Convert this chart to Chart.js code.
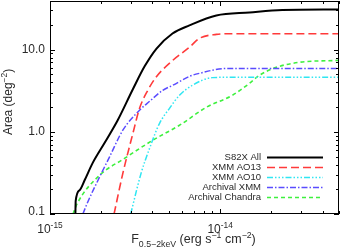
<!DOCTYPE html>
<html lang="en">
<head>
<meta charset="UTF-8">
<title>Survey area vs flux</title>
<script src="https://cdn.jsdelivr.net/npm/chart.js@4.4.1/dist/chart.umd.min.js"></script>
<style>
  html, body { margin: 0; padding: 0; background: #fff; }
  canvas { display: block; }
</style>
</head>
<body>
<canvas id="c" width="340" height="249"></canvas>
<script>
// values (flux in erg s^-1 cm^-2, area in deg^2)
var labels = ['S82X All', 'XMM AO13', 'XMM AO10', 'Archival XMM', 'Archival Chandra'];

var allFlux = [1.41e-15, 1.416e-15, 1.493e-15, 1.60e-15, 1.78e-15, 2.10e-15, 2.50e-15, 3.07e-15, 3.60e-15, 4.23e-15, 5.25e-15, 6.6e-15, 9.5e-15, 1.49e-14, 2.32e-14, 5e-14];
var allArea = [0.1, 0.144, 0.195, 0.259, 0.416, 0.74, 1.38, 3.29, 6.25, 10.3, 15.7, 19.7, 26.0, 28.3, 30.3, 30.8];

var ao13Flux = [2.38e-15, 2.68e-15, 3.07e-15, 3.36e-15, 3.76e-15, 4.21e-15, 5.27e-15, 6.61e-15, 7.56e-15, 9.5e-15, 1.18e-14, 5e-14];
var ao13Area = [0.1, 0.312, 0.953, 1.93, 3.2, 4.64, 7.4, 10.7, 13.7, 15.3, 15.6, 15.6];

var ao10Flux = [2.98e-15, 3.43e-15, 3.85e-15, 4.40e-15, 5.04e-15, 5.77e-15, 6.87e-15, 9.0e-15, 1.06e-14, 5e-14];
var ao10Area = [0.1, 0.312, 0.63, 1.26, 1.93, 2.78, 3.68, 4.56, 4.6, 4.6];

var archXmmFlux = [1.56e-15, 1.67e-15, 1.96e-15, 2.24e-15, 2.68e-15, 3.36e-15, 3.85e-15, 4.60e-15, 5.27e-15, 6.61e-15, 7.56e-15, 1.09e-14, 5e-14];
var archXmmArea = [0.1, 0.141, 0.284, 0.496, 1.045, 1.83, 2.35, 3.2, 3.68, 4.73, 5.14, 5.9, 5.9];

var chandraFlux = [1.365e-15, 1.45e-15, 1.96e-15, 2.74e-15, 4.02e-15, 5.77e-15, 8.31e-15, 1.18e-14, 1.49e-14, 1.70e-14, 2.14e-14, 2.92e-14, 5e-14];
var chandraArea = [0.1, 0.136, 0.297, 0.474, 0.79, 1.20, 1.99, 2.78, 3.89, 4.86, 6.08, 7.0, 7.4];

// axis ticks
var xMajor = [1e-15, 1e-14];
var xMajorExp = ['-15', '-14'];
var yMajor = [0.1, 1, 10];
var yMajorLabels = ['0.1', '1.0', '10.0'];

var FONT = '"Liberation Sans", Arial, Helvetica, sans-serif';

function pts(xs, ys) {
    return xs.map(function(x, i) { return { x: x, y: ys[i] }; });
}

function series(label, xs, ys, color, width, dash) {
    return {
        label: label,
        data: pts(xs, ys),
        borderColor: color,
        borderWidth: width,
        borderDash: dash,
        pointRadius: 0,
        fill: false,
        cubicInterpolationMode: 'monotone'
    };
}

// draws text with sub/superscript pieces, returns width
function richText(ctx, parts, x, y, size, measureOnly) {
    var w = 0;
    parts.forEach(function(p) {
        var s = p.s ? size * 0.7 : size;
        ctx.font = s + 'px ' + FONT;
        var dy = p.s === 'sub' ? size * 0.3 : (p.s === 'sup' ? -size * 0.42 : 0);
        if (!measureOnly) ctx.fillText(p.t, x + w, y + dy);
        w += ctx.measureText(p.t).width;
    });
    return w;
}

var framePlugin = {
    id: 'frame',
    afterDatasetsDraw: function(chart) {
        var ctx = chart.ctx, a = chart.chartArea;
        var xs = chart.scales.x, ys = chart.scales.y;
        ctx.save();
        ctx.strokeStyle = '#000';
        ctx.lineWidth = 1;
        ctx.setLineDash([]);
        ctx.strokeRect(a.left + 0.5, a.top + 0.5, a.right - a.left - 1, a.bottom - a.top - 1);

        ctx.beginPath();
        // x ticks, bottom and top
        for (var e = -15; e <= -14; e++) {
            for (var m = 1; m <= 9; m++) {
                var v = m * Math.pow(10, e);
                if (v < xs.min || v > xs.max) continue;
                var px = Math.round(xs.getPixelForValue(v)) + 0.5;
                var len = m === 1 ? 5 : 3;
                ctx.moveTo(px, a.bottom); ctx.lineTo(px, a.bottom - len);
                ctx.moveTo(px, a.top); ctx.lineTo(px, a.top + len);
            }
        }
        // y ticks, left and right
        for (var e2 = -1; e2 <= 1; e2++) {
            for (var m2 = 1; m2 <= 9; m2++) {
                var v2 = m2 * Math.pow(10, e2);
                if (v2 < ys.min || v2 > ys.max) continue;
                var py = Math.round(ys.getPixelForValue(v2)) + 0.5;
                var len2 = m2 === 1 ? 5 : 3;
                ctx.moveTo(a.left, py); ctx.lineTo(a.left + len2, py);
                ctx.moveTo(a.right, py); ctx.lineTo(a.right - len2, py);
            }
        }
        ctx.stroke();

        ctx.fillStyle = '#2a2a2a';
        // y tick labels
        ctx.font = '12px ' + FONT;
        ctx.textAlign = 'right';
        ctx.textBaseline = 'middle';
        yMajor.forEach(function(v, i) {
            var py = ys.getPixelForValue(v);
            if (i === 0) py -= 2;
            ctx.fillText(yMajorLabels[i], a.left - 5, py);
        });

        // x tick labels, 10^n
        ctx.textAlign = 'left';
        ctx.textBaseline = 'alphabetic';
        xMajor.forEach(function(v, i) {
            var parts = [{ t: '10' }, { t: xMajorExp[i], s: 'sup' }];
            var w = richText(ctx, parts, 0, 0, 12, true);
            var px = xs.getPixelForValue(v);
            richText(ctx, parts, px - w / 2, a.bottom + 19, 12, false);
        });

        // x title
        var xt = [{ t: 'F' }, { t: '0.5\u22122keV', s: 'sub' }, { t: ' (erg s' }, { t: '\u22121', s: 'sup' },
                  { t: ' cm' }, { t: '\u22122', s: 'sup' }, { t: ')' }];
        var wx = richText(ctx, xt, 0, 0, 12.5, true);
        richText(ctx, xt, (a.left + a.right) / 2 - wx / 2 - 1, a.bottom + 29, 12.5, false);

        // y title, rotated
        var yt = [{ t: 'Area (deg' }, { t: '\u22122', s: 'sup' }, { t: ')' }];
        var wy = richText(ctx, yt, 0, 0, 12, true);
        ctx.save();
        ctx.translate(12, 102);
        ctx.rotate(-Math.PI / 2);
        richText(ctx, yt, -wy / 2, 0, 12, false);
        ctx.restore();

        // legend, text right aligned and sample line on the right
        ctx.font = '9.5px ' + FONT;
        ctx.textAlign = 'right';
        ctx.textBaseline = 'middle';
        chart.data.datasets.forEach(function(ds, i) {
            var ry = 157 + i * 10;
            ctx.fillStyle = '#2a2a2a';
            ctx.fillText(ds.label, 261, ry);
            ctx.beginPath();
            ctx.strokeStyle = ds.borderColor;
            ctx.lineWidth = ds.borderWidth;
            ctx.setLineDash(ds.borderDash || []);
            ctx.moveTo(267, ry + 0.5);
            ctx.lineTo(323, ry + 0.5);
            ctx.stroke();
        });
        ctx.restore();
    }
};

new Chart(document.getElementById('c'), {
    type: 'line',
    data: {
        datasets: [
            series(labels[0], allFlux, allArea, '#000000', 2, []),
            series(labels[1], ao13Flux, ao13Area, '#ff3a3a', 1.6, [8, 4]),
            series(labels[2], ao10Flux, ao10Area, '#2fe6f2', 1.5, [6, 2, 1.5, 2, 1.5, 2, 1.5, 2]),
            series(labels[3], archXmmFlux, archXmmArea, '#5a4cff', 1.5, [6, 2, 1.5, 2]),
            series(labels[4], chandraFlux, chandraArea, '#3ef03e', 1.6, [4, 3])
        ]
    },
    options: {
        responsive: false,
        animation: false,
        devicePixelRatio: 1,
        layout: { padding: { left: 50, top: 1, right: 1, bottom: 35 } },
        plugins: { legend: { display: false }, tooltip: { enabled: false } },
        scales: {
            x: { type: 'logarithmic', min: 1e-15, max: 5e-14, display: false },
            y: { type: 'logarithmic', min: 0.1, max: 39, display: false }
        }
    },
    plugins: [framePlugin]
});
</script>
</body>
</html>
